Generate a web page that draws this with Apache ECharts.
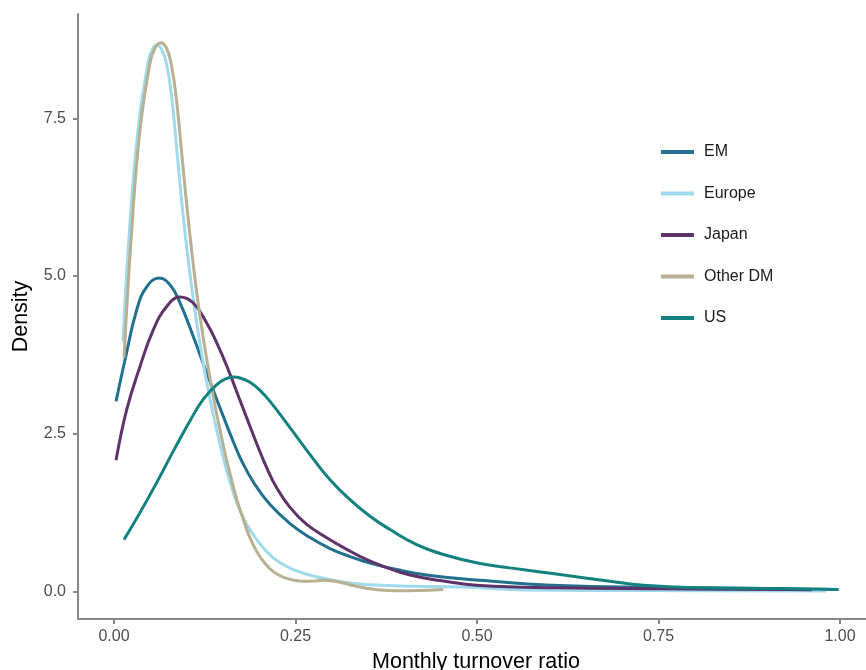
<!DOCTYPE html>
<html>
<head>
<meta charset="utf-8">
<title>Monthly turnover ratio density by region</title>
<script src="https://cdn.jsdelivr.net/npm/echarts@6/dist/echarts.min.js"></script>
<style>
  html, body { margin: 0; padding: 0; background: #ffffff; }
  #chart { width: 866px; height: 670px; }
</style>
</head>
<body>
<div id="chart"></div>
<script>
// Kernel density estimates of monthly turnover ratio, one curve per region.
// Each entry is [turnover ratio, density].
const regions = ['EM', 'Europe', 'Japan', 'Other DM', 'US'];
const colors = ['#21708f', '#9fdaed', '#5d3369', '#b8b090', '#12817f'];

const densityEM = [
  [0.0028, 3.011], [0.0152, 3.672], [0.0313, 4.464], [0.045, 4.829], [0.0624, 4.967],
  [0.0771, 4.86], [0.0909, 4.575], [0.1092, 4.041], [0.1277, 3.461], [0.1433, 2.99],
  [0.1598, 2.5], [0.1763, 2.056], [0.1942, 1.69], [0.2149, 1.374], [0.2424, 1.073],
  [0.27, 0.851], [0.2975, 0.677], [0.3251, 0.55], [0.3526, 0.447], [0.3894, 0.344],
  [0.4353, 0.249], [0.5041, 0.174], [0.6143, 0.09], [0.7521, 0.063], [0.9174, 0.038],
  [0.9904, 0.027]
];
const densityEurope = [
  [0.0124, 3.957], [0.0213, 5.732], [0.0331, 7.317], [0.0468, 8.379], [0.0523, 8.585],
  [0.0592, 8.664], [0.0661, 8.585], [0.073, 8.331], [0.0799, 7.793], [0.0868, 6.968],
  [0.0937, 6.128], [0.1006, 5.415], [0.1074, 4.781], [0.1143, 4.227], [0.1212, 3.735],
  [0.1281, 3.292], [0.135, 2.895], [0.1419, 2.531], [0.1488, 2.198], [0.1556, 1.897],
  [0.1639, 1.58], [0.1736, 1.279], [0.1846, 1.025], [0.1966, 0.819], [0.2103, 0.629],
  [0.2241, 0.487], [0.2424, 0.368], [0.2562, 0.304], [0.2745, 0.241], [0.293, 0.193],
  [0.3251, 0.13], [0.3526, 0.103], [0.4118, 0.079], [0.4807, 0.067], [0.5685, 0.021],
  [0.7383, 0.011], [0.9807, 0.006]
];
const densityJapan = [
  [0.0028, 2.076], [0.0175, 2.88], [0.0358, 3.566], [0.0541, 4.147], [0.0726, 4.517],
  [0.0909, 4.666], [0.1092, 4.571], [0.1277, 4.254], [0.1415, 3.941], [0.1552, 3.577],
  [0.169, 3.165], [0.1828, 2.75], [0.1966, 2.34], [0.2103, 1.96], [0.2241, 1.64],
  [0.2424, 1.33], [0.2654, 1.06], [0.293, 0.85], [0.3205, 0.665], [0.3481, 0.5],
  [0.3756, 0.376], [0.4077, 0.257], [0.449, 0.17], [0.5041, 0.09], [0.6143, 0.054],
  [0.7521, 0.04], [0.9174, 0.027], [0.961, 0.024]
];
const densityOtherDM = [
  [0.0138, 3.704], [0.0244, 5.732], [0.0358, 7.317], [0.0496, 8.379], [0.0565, 8.616],
  [0.0643, 8.701], [0.0716, 8.632], [0.0785, 8.379], [0.0854, 7.856], [0.0923, 7.063],
  [0.0992, 6.239], [0.1061, 5.494], [0.1129, 4.829], [0.1198, 4.258], [0.1267, 3.751],
  [0.1336, 3.292], [0.1405, 2.864], [0.1474, 2.483], [0.1543, 2.119], [0.1612, 1.802],
  [0.168, 1.501], [0.1763, 1.2], [0.186, 0.883], [0.1966, 0.629], [0.208, 0.439],
  [0.2194, 0.312], [0.2328, 0.225], [0.247, 0.177], [0.2603, 0.158], [0.2745, 0.162],
  [0.2879, 0.173], [0.3017, 0.162], [0.3154, 0.13], [0.3292, 0.09], [0.3457, 0.051],
  [0.3664, 0.019], [0.387, 0.008], [0.4169, 0.011], [0.4536, 0.027]
];
const densityUS = [
  [0.0138, 0.819], [0.0358, 1.247], [0.0588, 1.723], [0.0813, 2.214], [0.1047, 2.705],
  [0.1226, 3.038], [0.1415, 3.276], [0.1529, 3.363], [0.1643, 3.398], [0.1749, 3.379],
  [0.1873, 3.315], [0.2011, 3.187], [0.2149, 3.012], [0.2424, 2.594], [0.27, 2.166],
  [0.2975, 1.77], [0.3251, 1.453], [0.3526, 1.189], [0.3802, 0.978], [0.4169, 0.74],
  [0.4536, 0.582], [0.5041, 0.439], [0.5455, 0.371], [0.6143, 0.265], [0.6832, 0.158],
  [0.7291, 0.095], [0.7979, 0.056], [0.9174, 0.043], [0.9982, 0.027]
];
const seriesData = [densityEM, densityEurope, densityJapan, densityOtherDM, densityUS];

// Axis ticks and their labels
const xTicks = [0, 0.25, 0.5, 0.75, 1.0];
const xTickLabels = ['0.00', '0.25', '0.50', '0.75', '1.00'];
const yTicks = [0, 2.5, 5, 7.5];
const yTickLabels = ['0.0', '2.5', '5.0', '7.5'];

const FONT = '"Liberation Sans", Arial, Helvetica, sans-serif';
const AXIS_GREY = '#878787';

function labelFor(ticks, labels) {
  return function (v) {
    for (let i = 0; i < ticks.length; i++) {
      if (Math.abs(ticks[i] - v) < 1e-9) return labels[i];
    }
    return '';
  };
}

const chart = echarts.init(document.getElementById('chart'), null, { renderer: 'canvas' });

chart.setOption({
  animation: false,
  backgroundColor: '#ffffff',
  textStyle: { fontFamily: FONT },
  grid: { left: 78, right: 0, top: 14, bottom: 51, containLabel: false, outerBoundsMode: 'none' },
  legend: {
    orient: 'vertical',
    left: 661,
    top: 143,
    padding: 0,
    icon: 'rect',
    itemWidth: 33,
    itemHeight: 4,
    itemGap: 23.5,
    data: regions,
    textStyle: {
      fontFamily: FONT,
      fontSize: 16,
      color: '#1a1a1a',
      padding: [0, 0, 0, 5],
      lineHeight: 18
    }
  },
  xAxis: {
    type: 'value',
    min: -0.0496,
    max: 1.0358,
    name: 'Monthly turnover ratio',
    nameLocation: 'middle',
    nameGap: 32,
    nameTextStyle: { fontFamily: FONT, fontSize: 21.5, color: '#000000', padding: [0, 0, 0, 8] },
    splitLine: { show: false },
    axisLine: { show: true, onZero: false, lineStyle: { color: AXIS_GREY, width: 2 } },
    axisTick: { show: true, length: 5, customValues: xTicks, lineStyle: { color: AXIS_GREY, width: 2 } },
    axisLabel: {
      customValues: xTicks,
      formatter: labelFor(xTicks, xTickLabels),
      fontFamily: FONT,
      fontSize: 16,
      color: '#4d4d4d',
      margin: 10
    }
  },
  yAxis: {
    type: 'value',
    min: -0.44,
    max: 9.155,
    name: 'Density',
    nameLocation: 'middle',
    nameGap: 46,
    nameTextStyle: { fontFamily: FONT, fontSize: 21.5, color: '#000000' },
    splitLine: { show: false },
    axisLine: { show: true, onZero: false, lineStyle: { color: AXIS_GREY, width: 2 } },
    axisTick: { show: true, length: 5, customValues: yTicks, lineStyle: { color: AXIS_GREY, width: 2 } },
    axisLabel: {
      customValues: yTicks,
      formatter: labelFor(yTicks, yTickLabels),
      fontFamily: FONT,
      fontSize: 16,
      color: '#4d4d4d',
      margin: 12
    }
  },
  series: regions.map(function (name, i) {
    return {
      name: name,
      type: 'line',
      data: seriesData[i],
      smooth: 0.45,
      showSymbol: false,
      symbol: 'none',
      color: colors[i],
      lineStyle: { width: 3, color: colors[i], cap: 'butt' },
      emphasis: { disabled: true },
      z: 2 + i
    };
  })
});
</script>
</body>
</html>
